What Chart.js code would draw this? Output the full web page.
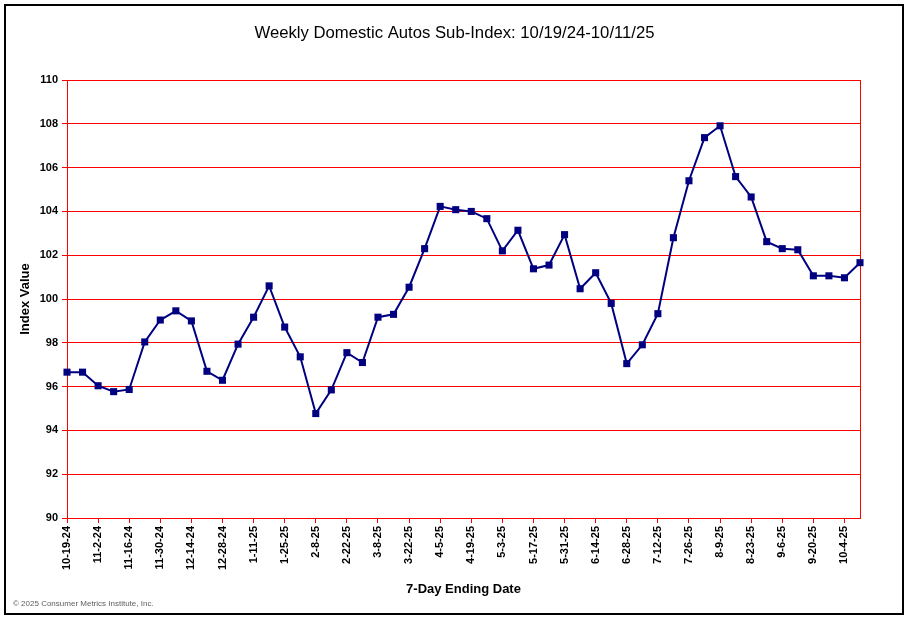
<!DOCTYPE html>
<html>
<head>
<meta charset="utf-8">
<script src="https://cdn.jsdelivr.net/npm/chart.js@4/dist/chart.umd.min.js"></script>
<style>
html,body{margin:0;padding:0;background:#fff;}
#wrap{width:909px;height:621px;}
</style>
</head>
<body>
<div id="wrap"><canvas id="c" width="909" height="621"></canvas></div>
<script>
const categories = [
  '10-19-24','10-26-24','11-2-24','11-9-24','11-16-24','11-23-24','11-30-24','12-7-24','12-14-24','12-21-24',
  '12-28-24','1-4-25','1-11-25','1-18-25','1-25-25','2-1-25','2-8-25','2-15-25','2-22-25','3-1-25',
  '3-8-25','3-15-25','3-22-25','3-29-25','4-5-25','4-12-25','4-19-25','4-26-25','5-3-25','5-10-25',
  '5-17-25','5-24-25','5-31-25','6-7-25','6-14-25','6-21-25','6-28-25','7-5-25','7-12-25','7-19-25',
  '7-26-25','8-2-25','8-9-25','8-16-25','8-23-25','8-30-25','9-6-25','9-13-25','9-20-25','9-27-25',
  '10-4-25','10-11-25'
];
const indexValues = [
  96.66, 96.66, 96.04, 95.77, 95.87, 98.04, 99.04, 99.46, 99.0, 96.7,
  96.29, 97.94, 99.17, 100.6, 98.72, 97.36, 94.77, 95.85, 97.55, 97.1,
  99.17, 99.3, 100.54, 102.3, 104.23, 104.08, 104.0, 103.67, 102.2, 103.14,
  101.38, 101.55, 102.94, 100.47, 101.2, 99.8, 97.05, 97.91, 99.33, 102.8,
  105.4, 107.37, 107.91, 105.59, 104.66, 102.62, 102.3, 102.25, 101.06, 101.06,
  100.97, 101.66
];
const yTicks = { min: 90, max: 110, step: 2 };
const titleText = 'Weekly Domestic Autos Sub-Index: 10/19/24-10/11/25';
const yTitle = 'Index Value';
const xTitle = '7-Day Ending Date';
const copyright = '\u00A9 2025 Consumer Metrics Institute, Inc.';

const FONT = "'Liberation Sans', Arial, Helvetica, sans-serif";
const RED = '#ff0000';
const NAVY = '#000080';

const framePlugin = {
  id: 'frame',
  beforeDraw(chart) {
    const ctx = chart.ctx;
    ctx.save();
    ctx.fillStyle = '#ffffff';
    ctx.fillRect(0, 0, chart.width, chart.height);
    ctx.restore();
  },
  afterDraw(chart) {
    const ctx = chart.ctx;
    ctx.save();
    ctx.strokeStyle = '#000000';
    ctx.lineWidth = 2;
    ctx.strokeRect(5, 5, 898, 609);
    ctx.fillStyle = '#606060';
    ctx.font = '8px ' + FONT;
    ctx.textBaseline = 'middle';
    ctx.textAlign = 'left';
    ctx.fillText(copyright, 13, 604);
    ctx.restore();
  }
};

new Chart(document.getElementById('c'), {
  type: 'line',
  data: {
    labels: categories,
    datasets: [{
      data: indexValues,
      borderColor: NAVY,
      borderWidth: 2,
      backgroundColor: NAVY,
      pointStyle: 'rect',
      pointRadius: 5,
      pointBackgroundColor: NAVY,
      pointBorderWidth: 0,
      tension: 0,
      fill: false
    }]
  },
  options: {
    responsive: false,
    animation: false,
    devicePixelRatio: 1,
    layout: { padding: { top: 0, left: 0, right: 0, bottom: 0 } },
    plugins: {
      legend: { display: false },
      tooltip: { enabled: false },
      title: {
        display: true,
        text: titleText,
        color: '#000000',
        font: { family: FONT, size: 16.7, weight: 'normal' },
        padding: { top: 23, bottom: 37 }
      }
    },
    scales: {
      x: {
        offset: false,
        afterFit(s) { s.height = 103; },
        grid: {
          drawOnChartArea: false,
          drawTicks: true,
          tickLength: 5,
          color: RED,
          tickColor: (ctx) => (ctx.index % 2 === 0 ? RED : 'rgba(0,0,0,0)')
        },
        border: { color: RED, width: 1 },
        ticks: {
          autoSkip: false,
          minRotation: 90,
          maxRotation: 90,
          padding: 3,
          color: '#000000',
          font: { family: FONT, size: 11, weight: 'bold' },
          callback: function(v, i) { return i % 2 === 0 ? categories[i] : ''; }
        },
        title: {
          display: true,
          text: xTitle,
          color: '#000000',
          font: { family: FONT, size: 13, weight: 'bold' },
          padding: { top: 0, bottom: 24 }
        }
      },
      y: {
        min: yTicks.min,
        max: yTicks.max,
        afterFit(s) { s.width = 67; },
        grid: {
          color: RED,
          lineWidth: 1,
          tickLength: 5,
          drawTicks: true
        },
        border: { color: RED, width: 1 },
        ticks: {
          stepSize: yTicks.step,
          padding: 4,
          color: '#000000',
          font: { family: FONT, size: 11, weight: 'bold' }
        },
        title: {
          display: true,
          text: yTitle,
          color: '#000000',
          font: { family: FONT, size: 13, weight: 'bold' },
          padding: { top: 18, bottom: 0 }
        }
      },
      yRight: {
        type: 'linear',
        position: 'right',
        min: yTicks.min,
        max: yTicks.max,
        afterFit(s) { s.width = 49; },
        grid: { drawOnChartArea: false, drawTicks: false },
        border: { display: true, color: RED, width: 1 },
        ticks: { display: false }
      }
    }
  },
  plugins: [framePlugin]
});
</script>
</body>
</html>
